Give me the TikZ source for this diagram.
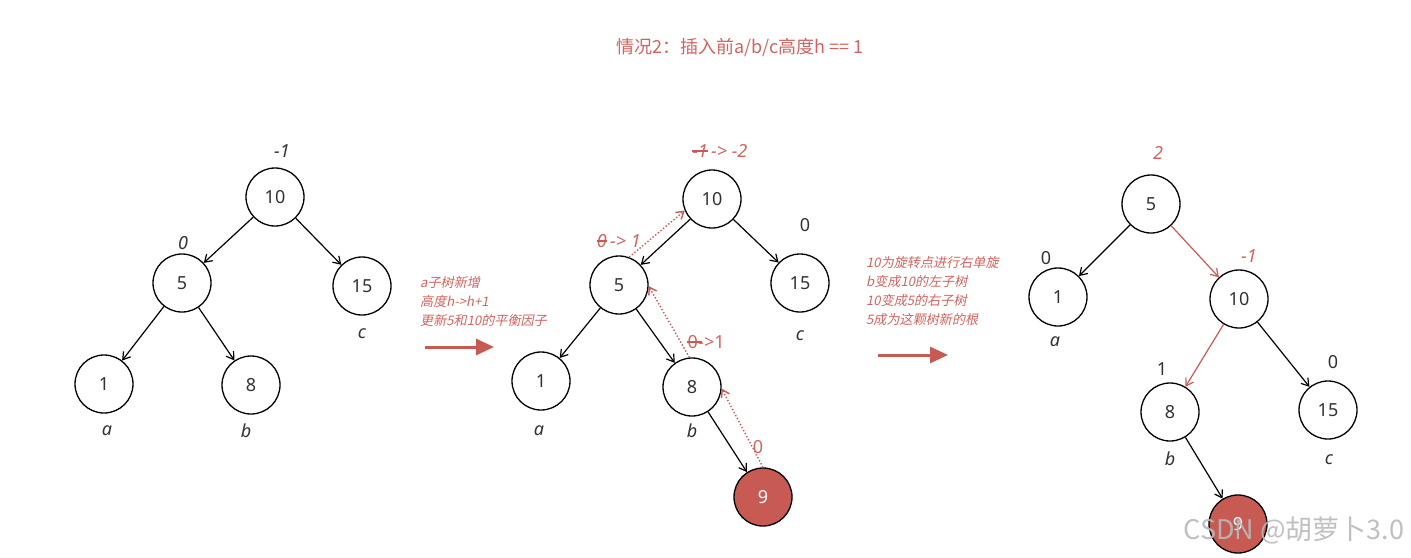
\documentclass[tikz,border=0pt]{standalone}
\usepackage{fontspec}
\setmainfont{Noto Sans}
\newfontfamily\cjk{Noto Sans CJK SC}
\newfontfamily\cjkit[FakeSlant=0.2]{Noto Sans CJK SC}
\usetikzlibrary{arrows.meta}
\definecolor{rd}{RGB}{200,90,84}
\definecolor{rdt}{RGB}{207,100,95}
\definecolor{nodetxt}{RGB}{50,50,50}
\tikzset{
  tn/.style={circle,draw=black,line width=1.3pt,minimum size=58pt,inner sep=0pt,font=\fontsize{18}{20}\selectfont,text=nodetxt},
  tnred/.style={tn,fill=rd,text=white},
  edge/.style={line width=1.2pt,-{Straight Barb[length=7pt,width=9pt]}},
  rededge/.style={edge,draw=rd},
  dotarrow/.style={draw=rd,line width=1.4pt,dotted,-{Straight Barb[length=7pt,width=9pt]}},
  lbl/.style={font=\fontsize{18}{20}\selectfont\itshape,text=nodetxt,inner sep=0pt},
  ulbl/.style={font=\fontsize{18}{20}\selectfont,text=nodetxt,inner sep=0pt},
  bf/.style={font=\fontsize{18}{20}\selectfont\itshape,text=rdt,inner sep=0pt},
  bfu/.style={font=\fontsize{18}{20}\selectfont,text=rdt,inner sep=0pt},
  note/.style={font=\cjkit\fontsize{13.1}{19}\selectfont,text=rdt,align=left,anchor=north west,inner sep=0pt},
  bigarrow/.style={draw=rd,line width=3pt,-{Triangle[length=18pt,width=16pt]}},
  strike/.style={draw=rd,line width=1.2pt}
}
\begin{document}
\begin{tikzpicture}[x=1pt,y=-1pt]
\useasboundingbox (0,0) rectangle (1411,557);
% title
\node[font=\cjk\fontsize{18}{20}\selectfont,text=rdt] (title) at (740,48) {情况2：插入前a/b/c高度h == 1};

% ---------- tree 1 ----------
\node[tn] (a10) at (275,197) {10};
\node[tn] (a5) at (182,283) {5};
\node[tn] (a15) at (362,286) {15};
\node[tn] (a1) at (104,384) {1};
\node[tn] (a8) at (251,385) {8};
\draw[edge] (a10) -- (a5);
\draw[edge] (a10) -- (a15);
\draw[edge] (a5) -- (a1);
\draw[edge] (a5) -- (a8);
\node[lbl] (al1) at (282,151) {-1};
\node[lbl] (al2) at (183,243) {0};
\node[lbl] (ala) at (107,431) {a};
\node[lbl] (alb) at (246,431) {b};
\node[lbl] (alc) at (362,334) {c};

% arrow 1 + note
\node[note] (n1) at (420,276) {a子树新增\\高度h->h+1\\更新5和10的平衡因子};
\coordinate (p1s) at (425,347);
\coordinate (p1e) at (494,347);
\draw[bigarrow] (p1s) -- (p1e);

% ---------- tree 2 ----------
\node[tn] (b10) at (712,199) {10};
\node[tn] (b5) at (619,285) {5};
\node[tn] (b15) at (800,283) {15};
\node[tn] (b1) at (541,381) {1};
\node[tn] (b8) at (692,387) {8};
\node[tnred] (b9) at (763,497) {9};
\draw[edge] (b10) -- (b5);
\draw[edge] (b10) -- (b15);
\draw[edge] (b5) -- (b1);
\draw[edge] (b5) -- (b8);
\draw[edge] (b8) -- (b9);
\draw[dotarrow] (b5.70) -- (b10.203);
\draw[dotarrow] (b8.95) -- (b5.-2);
\draw[dotarrow] (b9.90) -- (b8.-3);
% labels
\node[bf,anchor=east] (bt1) at (708,151) {-1};
\node[bf,anchor=west] (bt1r) at (bt1.east) {\,-> -2};
\draw[strike] (bt1.west) -- (bt1.east);
\node[ulbl] (bt0) at (805,225) {0};
\node[bf,anchor=east] (bt5) at (607,241) {0};
\node[bf,anchor=west] (bt5r) at (bt5.east) {\,-> 1};
\draw[strike] (bt5.west) -- (bt5.east);
\node[bfu,anchor=east] (bt8) at (698,342) {0};
\node[bfu,anchor=west] (bt8r) at (bt8.east) {->1};
\draw[strike] (bt8.west) -- ([xshift=4pt]bt8.east);
\node[bfu] (bt9) at (758,447) {0};
\node[lbl] (bla) at (539,431) {a};
\node[lbl] (blb) at (692,431) {b};
\node[lbl] (blc) at (800,336) {c};

% arrow 2 + note
\node[note] (n2) at (866,256) {10为旋转点进行右单旋\\b变成10的左子树\\10变成5的右子树\\5成为这颗树新的根};
\coordinate (p2s) at (878,355);
\coordinate (p2e) at (948,355);
\draw[bigarrow] (p2s) -- (p2e);

% ---------- tree 3 ----------
\node[tn] (c5) at (1151,204) {5};
\node[tn] (c1) at (1058,297) {1};
\node[tn] (c10) at (1239,299) {10};
\node[tn] (c8) at (1170,412) {8};
\node[tn] (c15) at (1328,410) {15};
\node[tnred] (c9) at (1238,524) {9};
\draw[edge] (c5) -- (c1);
\draw[rededge] (c5) -- (c10);
\draw[rededge] (c10) -- (c8);
\draw[edge] (c10) -- (c15);
\draw[edge] (c8) -- (c9);
\node[bf] (cl2) at (1158,153) {2};
\node[ulbl] (cl0a) at (1046,258) {0};
\node[bf] (clm1) at (1249,256) {-1};
\node[ulbl] (cl1) at (1162,369) {1};
\node[ulbl] (cl0b) at (1333,362) {0};
\node[lbl] (cla) at (1055,342) {a};
\node[lbl] (clb) at (1170,459) {b};
\node[lbl] (clc) at (1329,460) {c};

% watermark
\node[font=\cjk\fontsize{27}{29}\selectfont,text=gray!55,opacity=0.9] (wm) at (1294,530) {CSDN @胡萝卜3.0};
\end{tikzpicture}
\end{document}
